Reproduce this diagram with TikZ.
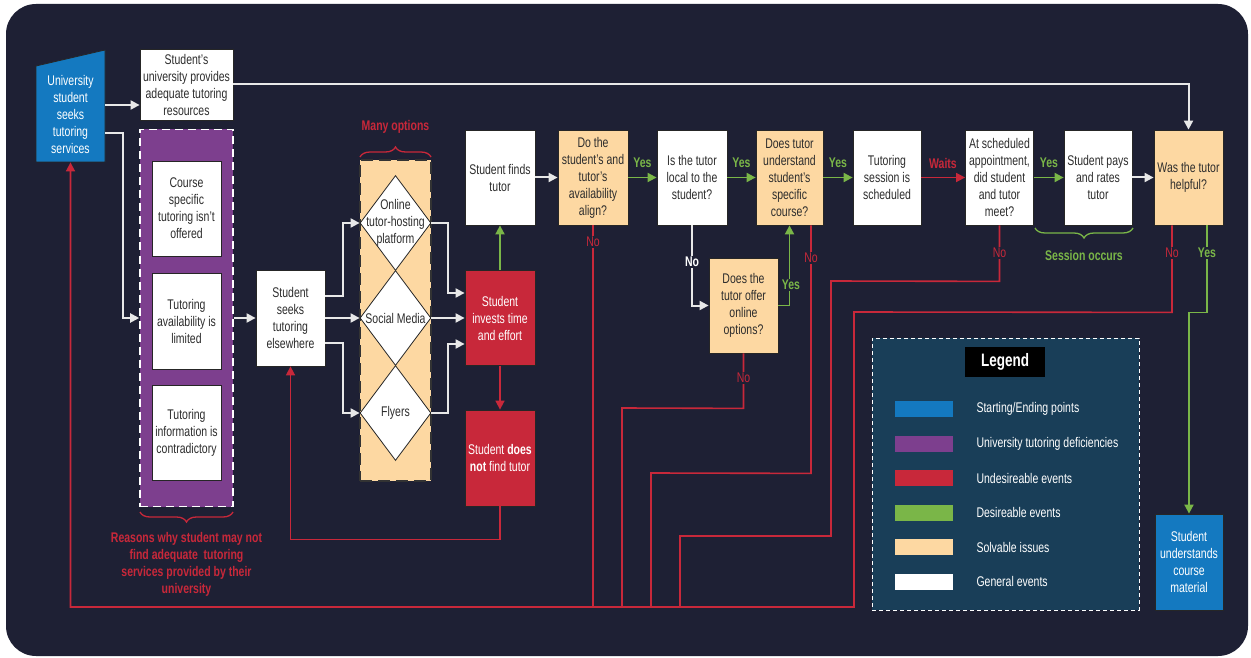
\documentclass[tikz,border=0pt]{standalone}
\usepackage{fontspec}
\setmainfont{Liberation Sans}[FakeStretch=0.75]
\usetikzlibrary{arrows.meta,calc,decorations.pathreplacing,shapes.geometric}

\definecolor{bg}{RGB}{30,32,52}
\definecolor{blu}{RGB}{20,121,192}
\definecolor{purp}{RGB}{125,63,142}
\definecolor{redd}{RGB}{200,40,58}
\definecolor{grn}{RGB}{122,182,72}
\definecolor{peach}{RGB}{253,216,162}
\definecolor{legbg}{RGB}{25,62,88}
\definecolor{wline}{RGB}{232,232,232}
\definecolor{txt}{RGB}{45,45,45}
\newcommand\boxfont{\fontsize{14}{17}\selectfont}

\begin{document}
\begin{tikzpicture}[x=1pt,y=-1pt,
  box/.style={rectangle,draw=black!85,line width=0.8pt,minimum width=69pt,minimum height=95pt,inner sep=1pt,align=center,font=\boxfont,text=txt},
  gen/.style={box,fill=white},
  fix/.style={box,fill=peach},
  bad/.style={box,fill=redd,text=white},
  endpt/.style={box,fill=blu,text=white},
  opt/.style={diamond,draw=black!85,line width=0.8pt,fill=white,minimum width=71pt,minimum height=95pt,inner sep=0pt},
  opttext/.style={font=\boxfont,align=center,text=txt,inner sep=0pt},
  tip/.style={-{Triangle[length=9pt,width=9pt]}},
  wire/.style={draw=wline,line width=2pt,tip},
  okline/.style={draw=grn,line width=1.8pt,tip},
  noline/.style={draw=redd,line width=1.6pt},
  tag/.style={font=\boxfont\bfseries,fill=bg,inner sep=1.5pt},
  notag/.style={font=\boxfont,text=redd,fill=bg,inner sep=1.5pt},
  note/.style={font=\boxfont\bfseries,align=center}]
\useasboundingbox (0,0) rectangle (1251,658);
\fill[white] (0,0) rectangle (1251,658);
\fill[bg,rounded corners=30pt] (6,4) rectangle (1248,656);

\filldraw[fill=blu,draw=black!85,line width=0.8pt] (36,162) -- (36,66) -- (105,50) -- (105,162) -- cycle;
\node[box,draw=none,text=white,minimum height=96pt] (start) at (70.5,114) {University\\student\\seeks\\tutoring\\services};
\node[gen,minimum width=93pt,minimum height=71pt] (uni) at (186.5,84.5) {Student's\\university provides\\adequate tutoring\\resources};

\node[fill=purp,draw=white,line width=1.6pt,dash pattern=on 8pt off 5pt,minimum width=93pt,minimum height=377pt] (defic) at (186.5,318) {};
\node[gen] (course) at (186.5,208.5) {Course\\specific\\tutoring isn't\\offered};
\node[gen,minimum height=96pt] (avail) at (186.5,321) {Tutoring\\availability is\\limited};
\node[gen] (info) at (186.5,432.5) {Tutoring\\information is\\contradictory};

\node[gen,minimum height=96pt] (seeks) at (290.5,318) {Student\\seeks\\tutoring\\elsewhere};

\node[fill=peach,draw=black!80,line width=1.6pt,dash pattern=on 12pt off 6pt,minimum width=71pt,minimum height=321pt] (options) at (395.5,320.5) {};
\node[opt] (opt1) at (395.5,223) {};
\node[opt] (opt2) at (395.5,318) {};
\node[opt] (opt3) at (395.5,413) {};
\node[opttext] (opt1t) at (opt1) {Online\\tutor-hosting\\platform};
\node[opttext] (opt2t) at (opt2) {Social Media};
\node[opttext] (opt3t) at (opt3) {Flyers};

\node[gen,minimum width=70pt] (finds) at (500,177.5) {Student finds\\tutor};
\node[bad,minimum width=70pt] (invests) at (500,318) {Student\\invests time\\and effort};
\node[bad,minimum width=70pt,minimum height=96pt] (notfind) at (500,458) {Student \textbf{does}\\\textbf{not} find tutor};

\node[fix,minimum width=70pt] (align) at (593,177.5) {Do the\\student's and\\tutor's\\availability\\align?};
\node[gen,minimum width=70pt] (local) at (692,177.5) {Is the tutor\\local to the\\student?};
\node[fix] (online) at (743.5,305.5) {Does the\\tutor offer\\online\\options?};
\node[fix,minimum width=67pt] (course2) at (789.5,177.5) {Does tutor\\understand\\student's\\specific\\course?};
\node[gen,minimum width=68pt] (sched) at (887,177.5) {Tutoring\\session is\\scheduled};
\node[gen,minimum width=68pt] (meet) at (999.5,177.5) {At scheduled\\appointment,\\did student\\and tutor\\meet?};
\node[gen,minimum width=68pt] (pays) at (1098,177.5) {Student pays\\and rates\\tutor};
\node[fix] (helpful) at (1188.5,177.5) {Was the tutor\\helpful?};
\node[endpt,minimum width=68pt,minimum height=96pt] (understands) at (1189,562) {Student\\understands\\course\\material};

\draw[wire] ($(start.east)+(0,-9)$) -- ($(uni.west)+(0,20.5)$);
\draw[wire] ($(start.east)+(0,19)$) -- ++(18,0) |- (defic.west);
\draw[wire] (uni.east) -| (helpful.north);
\draw[wire] (defic.east) -- (seeks.west);
\draw[wire] ($(seeks.east)+(0,-22)$) -- ++(18,0) |- (opt1.west);
\draw[wire] (seeks.east) -- (opt2.west);
\draw[wire] ($(seeks.east)+(0,25)$) -- ++(18,0) |- (opt3.west);
\draw[wire] (opt1.east) -- ++(17,0) |- ($(invests.west)+(0,-25)$);
\draw[wire] (opt2.east) -- (invests.west);
\draw[wire] (opt3.east) -- ++(17,0) |- ($(invests.west)+(0,26)$);
\draw[okline] (invests.north) -- (finds.south);
\draw[noline,tip] (invests.south) -- (notfind.north);
\draw[noline,tip] (notfind.south) -- ++(0,33) -| (seeks.south);
\draw[wire] (finds.east) -- (align.west);
\draw[okline] (align.east) -- (local.west);
\draw[okline] (local.east) -- (course2.west);
\draw[okline] (course2.east) -- (sched.west);
\draw[noline,tip] (sched.east) -- (meet.west);
\draw[okline] (meet.east) -- (pays.west);
\draw[wire] (pays.east) -- (helpful.west);
\draw[wire] (local.south) |- (online.west);
\draw[okline] (online.east) -| (course2.south);

\draw[noline,tip] ($(helpful.south)+(-16.5,0)$) -- ++(0,87) -- (854,312) -- (854,607) -| (start.south);
\draw[noline] (align.south) -- (593,607);
\draw[noline] (online.south) -- ++(0,55) -- (622,408) -- (622,607);
\draw[noline] ($(course2.south)+(21.5,0)$) -- ++(0,248) -- (651,473) -- (651,607);
\draw[noline] (meet.south) -- ++(0,56) -- (831,281) -- (831,536) -- (680,536) -- (680,607);
\draw[okline] ($(helpful.south)+(18.5,0)$) -- ++(0,87) -| (understands.north);

\node[tag,text=grn] (yes1) at (642.5,163) {Yes};
\node[tag,text=grn] (yes2) at (741.5,163) {Yes};
\node[tag,text=grn] (yes3) at (838,163) {Yes};
\node[tag,text=redd] (waits) at (943,163) {Waits};
\node[tag,text=grn] (yes4) at (1049,163) {Yes};
\node[tag,text=white] (no1) at (692,262) {No};
\node[tag,text=grn] (yes5) at (791,285) {Yes};
\node[tag,text=grn] (yes6) at (1207,253) {Yes};
\node[notag] (no2) at (593,242) {No};
\node[notag] (no3) at (811,258) {No};
\node[notag] (no4) at (743.5,378) {No};
\node[notag] (no5) at (999.5,253) {No};
\node[notag] (no6) at (1172,253) {No};

\draw[redd,line width=1.3pt,decorate,decoration={brace,amplitude=10pt}] (233,512) -- (140,512);
\draw[redd,line width=1.3pt,decorate,decoration={brace,amplitude=10pt}] (360,157) -- (431,157);
\draw[grn,line width=1.3pt,decorate,decoration={brace,amplitude=10pt}] (1133,228) -- (1035,228);
\node[note,text=redd] (why) at (186.5,564) {Reasons why student may not\\find adequate\ \ tutoring\\services provided by their\\university};
\node[note,text=redd] (many) at (395.5,127) {Many options};
\node[note,text=grn] (occurs) at (1084,255) {Session occurs};

\node[draw=white,line width=1pt,dash pattern=on 4pt off 3pt,fill=legbg,minimum width=267pt,minimum height=272pt] (legend) at (1005.5,474) {};
\node[fill=black,text=white,font=\fontsize{18}{20}\selectfont\bfseries,minimum width=80pt,minimum height=30pt] (legtitle) at (1005,362) {Legend};
\foreach \c/\t [count=\i from 0] in {blu/{Starting/Ending points},purp/{University tutoring deficiencies},redd/{Undesireable events},grn/{Desireable events},peach/{Solvable issues},white/{General events}}{
  \node[fill=\c,minimum width=58pt,minimum height=16pt,inner sep=0pt] (sw\i) at (924,409+34.5*\i) {};
  \node[anchor=west,font=\boxfont,text=white] (lab\i) at (973,409+34.5*\i) {\t};
}
\end{tikzpicture}
\end{document}
